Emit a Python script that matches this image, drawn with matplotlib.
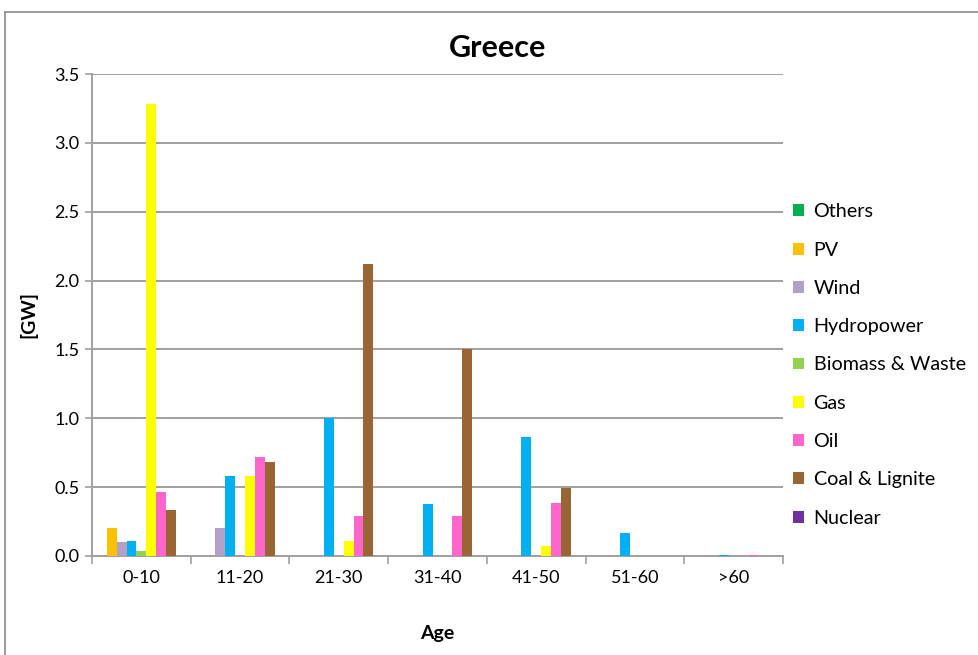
import matplotlib
matplotlib.use("Agg")
import matplotlib.pyplot as plt
from matplotlib.patches import Patch
from matplotlib.lines import Line2D
import numpy as np

plt.rcParams['font.family'] = ['Lato', 'DejaVu Sans']

age_groups = ["0-10", "11-20", "21-30", "31-40", "41-50", "51-60", ">60"]
series_names = ["Others", "PV", "Wind", "Hydropower", "Biomass & Waste",
                "Gas", "Oil", "Coal & Lignite", "Nuclear"]
series_colors = ["#00B050", "#FFC000", "#B1A0C7", "#00B0F0", "#92D050",
                 "#FFFF00", "#FF66CC", "#996633", "#7030A0"]

others  = [0.0, 0.0, 0.0, 0.0, 0.0, 0.0, 0.0]
pv      = [0.20, 0.0, 0.0, 0.0, 0.0, 0.0, 0.0]
wind    = [0.10, 0.20, 0.0, 0.0, 0.0, 0.0, 0.0]
hydro   = [0.11, 0.58, 1.00, 0.375, 0.865, 0.17, 0.005]
biomass = [0.035, 0.0, 0.0, 0.0, 0.0, 0.0, 0.0]
gas     = [3.28, 0.58, 0.11, 0.0, 0.07, 0.0, 0.0]
oil     = [0.465, 0.72, 0.29, 0.29, 0.385, 0.0, 0.005]
coal    = [0.335, 0.68, 2.12, 1.50, 0.495, 0.0, 0.0]
nuclear = [0.0, 0.0, 0.0, 0.0, 0.0, 0.0, 0.0]

series_values = [others, pv, wind, hydro, biomass, gas, oil, coal, nuclear]

W, H = 979, 655
fig = plt.figure(figsize=(W / 100, H / 100), dpi=100)
ax = fig.add_axes([92 / W, 1 - 556 / H, (783 - 92) / W, (556 - 74) / H])

grid_c = "#A0A0A0"
x = np.arange(len(age_groups))
bw = 0.1
n = len(series_names)
for j, (vals, col) in enumerate(zip(series_values, series_colors)):
    ax.bar(x + (j - (n - 1) / 2) * bw, vals, width=bw, color=col,
           linewidth=0, zorder=3)

ax.set_xlim(-0.5, len(age_groups) - 0.5)
ax.set_ylim(0, 3.5)
ax.set_yticks(np.arange(0, 3.51, 0.5))
ax.set_yticklabels([f"{v:.1f}" for v in np.arange(0, 3.51, 0.5)])
ax.set_xticks(x)
ax.set_xticklabels(age_groups)
ax.set_xticks(np.arange(-0.5, len(age_groups), 1.0), minor=True)
ax.tick_params(axis='x', which='major', length=0, pad=10, labelsize=13)
ax.tick_params(axis='x', which='minor', length=6, color=grid_c, width=1.2)
ax.tick_params(axis='y', length=5, color=grid_c, width=1.2, labelsize=13, pad=4)

ax.yaxis.grid(True, color=grid_c, linewidth=1.4, zorder=0)
ax.set_axisbelow(True)
for side in ["top", "right"]:
    ax.spines[side].set_visible(False)
for side in ["left", "bottom"]:
    ax.spines[side].set_color(grid_c)
    ax.spines[side].set_linewidth(1.4)

fig.text(498 / W, 1 - 48 / H, "Greece", ha='center', va='center',
         fontsize=22, fontweight='bold')
fig.text(28 / W, 1 - 315 / H, "[GW]", ha='center', va='center',
         rotation=90, fontsize=14, fontweight='bold')
fig.text(437 / W, 1 - 633 / H, "Age", ha='center', va='center',
         fontsize=14, fontweight='bold')

handles = [Patch(facecolor=c, edgecolor='none') for c in series_colors]
fig.legend(handles, series_names, loc='center left',
           bbox_to_anchor=(785 / W, 1 - 365 / H), frameon=False,
           fontsize=14.2, handlelength=0.55, handleheight=0.55,
           handletextpad=0.5, labelspacing=1.08, borderaxespad=0)

# chart area frame (top and left edges)
fig.add_artist(Line2D([5 / W, 5 / W], [0, 1 - 12 / H], transform=fig.transFigure,
                      color="#8C8C8C", linewidth=1.2))
fig.add_artist(Line2D([5 / W, 1], [1 - 12 / H, 1 - 12 / H], transform=fig.transFigure,
                      color="#8C8C8C", linewidth=1.2))

fig.savefig("out.png", dpi=100)
